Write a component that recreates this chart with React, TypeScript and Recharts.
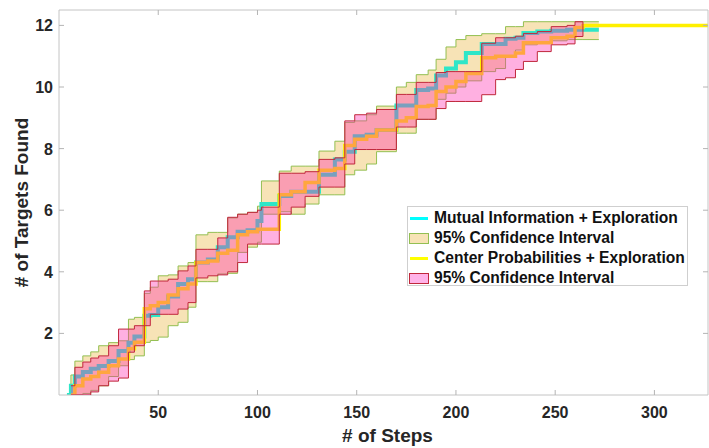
import React from "react";
import { ComposedChart, Area, Line, XAxis, YAxis } from "recharts";

// mean number of targets found per step, with 95% confidence bounds
const steps = [4, 6, 8, 12, 16, 20, 25, 30, 35, 38, 43, 46, 50, 55, 60, 65, 69, 75, 80, 85, 90, 95, 100, 102, 111, 117, 124, 131, 139, 144, 149, 155, 160, 170, 175, 180, 186, 190, 195, 200, 205, 213, 220, 225, 230, 234, 241, 248, 256, 260, 264, 272, 327];

const miMean = [0, 0.3, 0.6, 0.75, 0.85, 0.94, 1.1, 1.43, 1.7, 1.9, 2.57, 2.6, 2.85, 3.2, 3.6, 3.76, 4.3, 4.4, 4.8, 5.12, 5.3, 5.35, 5.65, 6.2, 6.46, 6.6, 6.6, 7.15, 7.65, 7.9, 8.4, 8.45, 8.6, 9.4, 9.4, 9.9, 9.95, 10.37, 10.6, 10.8, 11.1, 11.4, 11.4, 11.57, 11.6, 11.75, 11.8, 11.83, 11.86, 11.86, 11.86, 11.86, null];
const miLow = [0, 0, 0, 0.05, 0.15, 0.3, 0.6, 0.95, 1.15, 1.27, 1.71, 1.77, 1.88, 2.25, 2.36, 2.85, 3.68, 3.68, 3.93, 3.95, 4.63, 4.8, 4.96, 5.87, 5.95, 5.87, 6.2, 6.5, 6.5, 7.15, 7.3, 7.5, 7.9, 8.5, 8.5, 8.95, 8.95, 9.6, 9.8, 10.0, 10.2, 10.5, 10.6, 11.0, 11.2, 11.37, 11.45, 11.5, 11.54, 11.54, 11.54, 11.54, null];
const miHigh = [0, 0.65, 1.1, 1.27, 1.4, 1.6, 1.7, 1.76, 2.46, 2.52, 3.3, 3.5, 3.87, 3.9, 4.19, 4.3, 5.2, 5.28, 5.28, 5.75, 5.87, 5.93, 6.13, 6.95, 7.27, 7.43, 7.43, 7.92, 8.24, 8.85, 8.9, 9.1, 9.38, 10.0, 10.15, 10.4, 10.55, 10.9, 11.3, 11.54, 11.67, 11.73, 11.73, 11.96, 11.96, 12.12, 12.12, 12.12, 12.12, 12.12, 12.12, 12.12, null];

const cpMean = [null, 0, 0.3, 0.52, 0.6, 0.74, 0.95, 1.17, 1.5, 1.71, 2.8, 2.9, 3.0, 3.25, 3.45, 3.6, 4.3, 4.35, 4.6, 4.7, 5.2, 5.3, 5.38, 5.38, 6.5, 6.6, 6.9, 7.3, 7.35, 8.1, 8.3, 8.4, 8.6, 8.9, 9.0, 9.37, 9.4, 9.85, 10.0, 10.18, 10.44, 10.95, 11.0, 11.0, 11.1, 11.44, 11.44, 11.6, 11.65, 11.93, 12, 12, 12];
const cpLow = [null, 0, 0, 0, 0.1, 0.3, 0.45, 0.55, 1.39, 1.6, 2.25, 2.62, 2.62, 2.62, 2.79, 3.0, 3.8, 3.87, 3.9, 4.0, 4.3, 4.9, 4.9, 4.9, 5.87, 6.1, 6.45, 6.75, 6.75, 7.5, 7.97, 7.97, 7.97, 8.7, 8.7, 8.95, 8.95, 9.3, 9.53, 9.53, 9.53, 9.75, 10.24, 10.3, 10.57, 10.83, 11.15, 11.37, 11.4, 11.64, 12, null, null];
const cpHigh = [null, 0.3, 0.9, 1.07, 1.2, 1.27, 1.6, 2.14, 2.14, 2.25, 3.38, 3.7, 3.7, 3.76, 4.03, 4.19, 4.73, 4.73, 5.1, 5.77, 5.87, 5.93, 6.0, 6.1, 7.2, 7.2, 7.25, 7.65, 7.7, 8.9, 9.1, 9.15, 9.27, 9.76, 9.76, 10.15, 10.15, 10.47, 10.5, 10.5, 10.5, 11.42, 11.6, 11.6, 11.65, 11.74, 11.8, 11.96, 12.0, 12.12, 12, null, null];

const xTicks = [50, 100, 150, 200, 250, 300];
const yTicks = [2, 4, 6, 8, 10, 12];

const rows = steps.map((step, i) => ({
  step,
  mi: miMean[i],
  miBand: miLow[i] == null ? null : [miLow[i], miHigh[i]],
  cp: cpMean[i],
  cpBand: cpLow[i] == null ? null : [cpLow[i], cpHigh[i]],
}));

const X_DOMAIN: [number, number] = [0, 327];
const Y_DOMAIN: [number, number] = [0, 12.5];

const FONT = '"Liberation Sans", Arial, Helvetica, sans-serif';
const AXIS = "#c4c4c4";
const TICK = "#b4b4b4";
const TEXT = "#262626";

const MI_LINE = "#2ee6c8";
const MI_FILL = "#f7e3b6";
const MI_EDGE = "#93bf52";
const CP_LINE = "#fff000";
const CP_FILL = "rgb(255,36,171)";
const CP_EDGE = "#c0283c";

function BottomTick({ x, y, payload }: any) {
  return (
    <g>
      <line x1={x} x2={x} y1={y} y2={y - 5} stroke={TICK} />
      <text x={x} y={y + 23} textAnchor="middle" fontSize={16} fontWeight="bold" fill={TEXT} fontFamily={FONT}>
        {payload.value}
      </text>
    </g>
  );
}

function LeftTick({ x, y, payload }: any) {
  return (
    <g>
      <line x1={x} x2={x + 5} y1={y} y2={y} stroke={TICK} />
      <text x={x - 6} y={y + 6} textAnchor="end" fontSize={16} fontWeight="bold" fill={TEXT} fontFamily={FONT}>
        {payload.value}
      </text>
    </g>
  );
}

function TopTick({ x, y }: any) {
  return <line x1={x} x2={x} y1={y} y2={y + 5} stroke={TICK} />;
}

function RightTick({ x, y }: any) {
  return <line x1={x - 5} x2={x} y1={y} y2={y} stroke={TICK} />;
}

function LegendBox() {
  const row: React.CSSProperties = { display: "flex", alignItems: "center", height: 20 };
  const swatch: React.CSSProperties = { width: 20, display: "flex", justifyContent: "center", marginRight: 5 };
  return (
    <div
      style={{
        position: "absolute",
        left: 407,
        top: 206,
        width: 281,
        height: 80,
        boxSizing: "border-box",
        border: "1px solid #cfcfcf",
        background: "#fff",
        padding: "1px 0 0 1px",
        fontFamily: FONT,
        fontWeight: "bold",
        fontSize: 15.6,
        color: "#111",
        lineHeight: "20px",
        whiteSpace: "nowrap",
      }}
    >
      <div style={row}>
        <span style={swatch}><span style={{ width: 18, height: 3, background: "#00ffff" }} /></span>
        Mutual Information + Exploration
      </div>
      <div style={row}>
        <span style={swatch}><span style={{ width: 20, height: 11, boxSizing: "border-box", background: MI_FILL, border: `1px solid ${MI_EDGE}` }} /></span>
        95% Confidence Interval
      </div>
      <div style={row}>
        <span style={swatch}><span style={{ width: 18, height: 3, background: "#ffff00" }} /></span>
        Center Probabilities + Exploration
      </div>
      <div style={row}>
        <span style={swatch}><span style={{ width: 20, height: 11, boxSizing: "border-box", background: "#ffb3e8", border: `1px solid ${CP_EDGE}` }} /></span>
        95% Confidence Interval
      </div>
    </div>
  );
}

export default function App() {
  return (
    <div style={{ position: "absolute", left: 0, top: 0, width: 709, height: 448, background: "#fff" }}>
      <ComposedChart width={709} height={448} data={rows} margin={{ top: 9, right: 0, left: 19, bottom: 23 }}>
        <XAxis
          dataKey="step"
          type="number"
          domain={X_DOMAIN}
          ticks={xTicks}
          allowDataOverflow
          height={30}
          tickSize={0}
          tickMargin={0}
          tick={<BottomTick />}
          axisLine={{ stroke: AXIS }}
          label={(props: any) => {
            const vb = props.viewBox;
            return (
              <text x={vb.x + vb.width / 2 + 4} y={vb.y + 47} textAnchor="middle" fontSize={19} fontWeight="bold" fill={TEXT} fontFamily={FONT}>
                # of Steps
              </text>
            );
          }}
        />
        <XAxis
          xAxisId="top"
          orientation="top"
          dataKey="step"
          type="number"
          domain={X_DOMAIN}
          ticks={xTicks}
          allowDataOverflow
          height={1}
          tickSize={0}
          tickMargin={0}
          tick={<TopTick />}
          axisLine={{ stroke: AXIS }}
        />
        <YAxis
          type="number"
          domain={Y_DOMAIN}
          ticks={yTicks}
          allowDataOverflow
          width={40}
          tickSize={0}
          tickMargin={0}
          tick={<LeftTick />}
          axisLine={{ stroke: AXIS }}
          label={(props: any) => {
            const vb = props.viewBox;
            const cx = vb.x + 9;
            const cy = vb.y + vb.height / 2;
            return (
              <text x={cx} y={cy} transform={`rotate(-90, ${cx}, ${cy})`} textAnchor="middle" fontSize={19} fontWeight="bold" fill={TEXT} fontFamily={FONT}>
                # of Targets Found
              </text>
            );
          }}
        />
        <YAxis
          yAxisId="right"
          orientation="right"
          type="number"
          domain={Y_DOMAIN}
          ticks={yTicks}
          allowDataOverflow
          width={1}
          tickSize={0}
          tickMargin={0}
          tick={<RightTick />}
          axisLine={{ stroke: AXIS }}
        />
        <Area
          type="stepAfter"
          dataKey="miBand"
          fill={MI_FILL}
          fillOpacity={1}
          stroke={MI_EDGE}
          strokeWidth={1}
          isAnimationActive={false}
          activeDot={false}
        />
        <Line
          type="stepAfter"
          dataKey="mi"
          stroke={MI_LINE}
          strokeWidth={4}
          dot={false}
          activeDot={false}
          isAnimationActive={false}
        />
        <Line
          type="stepAfter"
          dataKey="cp"
          stroke={CP_LINE}
          strokeWidth={3.5}
          dot={false}
          activeDot={false}
          isAnimationActive={false}
        />
      </ComposedChart>

      {/* the translucent pink band sits above both mean lines, so it gets its own layer with the same plot box */}
      <div style={{ position: "absolute", left: 0, top: 0, pointerEvents: "none" }}>
        <ComposedChart width={709} height={448} data={rows} margin={{ top: 10, right: 1, left: 59, bottom: 53 }}>
          <XAxis dataKey="step" type="number" domain={X_DOMAIN} allowDataOverflow hide />
          <YAxis type="number" domain={Y_DOMAIN} allowDataOverflow hide />
          <Area
            type="stepAfter"
            dataKey="cpBand"
            fill={CP_FILL}
            fillOpacity={0.36}
            stroke={CP_EDGE}
            strokeWidth={1}
            isAnimationActive={false}
            activeDot={false}
          />
        </ComposedChart>
      </div>
      <LegendBox />
    </div>
  );
}
